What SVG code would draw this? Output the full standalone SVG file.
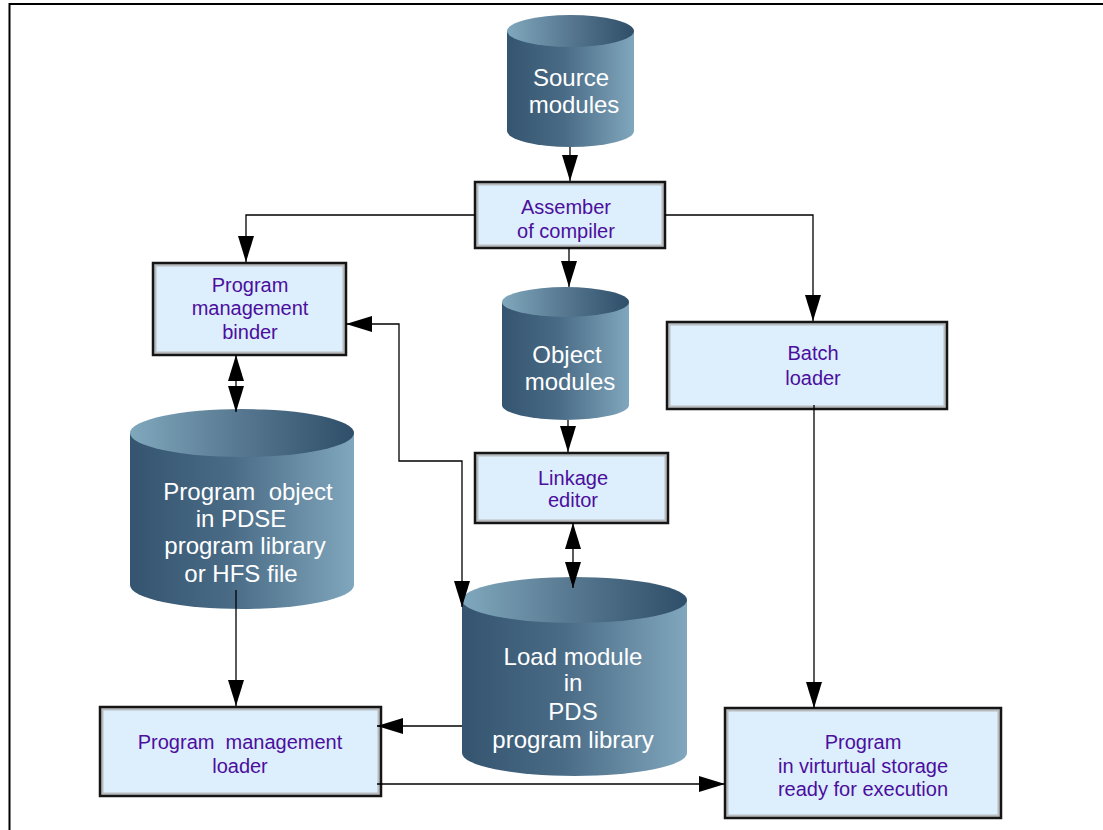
<svg xmlns="http://www.w3.org/2000/svg" width="1103" height="830" viewBox="0 0 1103 830">
  <style>
    .frame { fill: none; stroke: #000; stroke-width: 2; }
    .box-outer { fill: #b9bcbf; stroke: #151515; stroke-width: 2.5; }
    .box-inner { fill: #ddeefc; }
    .cyl-body { fill: url(#bodyGrad); }
    .cyl-top { fill: url(#topGrad); }
    text { white-space: pre; }
    .cyl-text { font-family: "Liberation Sans", Arial, sans-serif; font-size: 24px; fill: #ffffff; text-anchor: middle; }
    .box-text { font-family: "Liberation Sans", Arial, sans-serif; font-size: 20px; fill: #4b0f9e; text-anchor: middle; }
    .conn { fill: none; stroke: #000; stroke-width: 1.3; }
  </style>
  <defs>
    <linearGradient id="bodyGrad" x1="0" y1="0" x2="1" y2="0">
      <stop offset="0" stop-color="#34546f"/>
      <stop offset="0.45" stop-color="#4a6b86"/>
      <stop offset="1" stop-color="#80a7bd"/>
    </linearGradient>
    <linearGradient id="topGrad" x1="0" y1="0" x2="1" y2="0">
      <stop offset="0" stop-color="#80a8bd"/>
      <stop offset="0.5" stop-color="#56778f"/>
      <stop offset="1" stop-color="#2f4e69"/>
    </linearGradient>
    <marker id="arrow" markerUnits="userSpaceOnUse" markerWidth="26" markerHeight="16" refX="26" refY="8" orient="auto-start-reverse" viewBox="0 0 26 16">
      <path d="M0,0 L26,8 L0,16 Z" fill="#000"/>
    </marker>
  </defs>

  <!-- outer frame -->
  <path class="frame" d="M9.5,830 L9.5,4 L1103,4"/>

  <!-- storage cylinders -->
  <g id="source-modules">
    <path class="cyl-body" d="M507,31 L507,131 A63.5,16 0 0 0 634,131 L634,31 Z"/>
    <ellipse class="cyl-top" cx="570.5" cy="31" rx="63.5" ry="16"/>
    <text class="cyl-text" x="571" y="86">Source</text>
    <text class="cyl-text" x="574" y="113">modules</text>
  </g>

  <g id="object-modules">
    <path class="cyl-body" d="M502,302 L502,405 A63.5,15 0 0 0 629,405 L629,302 Z"/>
    <ellipse class="cyl-top" cx="565.5" cy="302" rx="63.5" ry="15"/>
    <text class="cyl-text" x="567" y="363">Object</text>
    <text class="cyl-text" x="570" y="390">modules</text>
  </g>

  <g id="program-object">
    <path class="cyl-body" d="M130,433 L130,585 A112,24 0 0 0 354,585 L354,433 Z"/>
    <ellipse class="cyl-top" cx="242" cy="433" rx="112" ry="24"/>
    <text class="cyl-text" x="248" y="500">Program  object</text>
    <text class="cyl-text" x="241" y="527">in PDSE</text>
    <text class="cyl-text" x="245" y="554">program library</text>
    <text class="cyl-text" x="241" y="582">or HFS file</text>
  </g>

  <g id="load-module">
    <path class="cyl-body" d="M462,600 L462,753 A112.5,23 0 0 0 687,753 L687,600 Z"/>
    <ellipse class="cyl-top" cx="574.5" cy="600" rx="112.5" ry="23"/>
    <text class="cyl-text" x="573" y="665">Load module</text>
    <text class="cyl-text" x="573" y="691">in</text>
    <text class="cyl-text" x="573" y="720">PDS</text>
    <text class="cyl-text" x="573" y="748">program library</text>
  </g>

  <!-- processing boxes -->
  <g id="assembler">
    <rect class="box-outer" x="475" y="182" width="190" height="66"/>
    <rect class="box-inner" x="478.5" y="185.5" width="183" height="59"/>
    <text class="box-text" x="566" y="214">Assember</text>
    <text class="box-text" x="566" y="238">of compiler</text>
  </g>

  <g id="binder">
    <rect class="box-outer" x="153" y="263" width="193" height="92"/>
    <rect class="box-inner" x="156.5" y="266.5" width="186" height="85"/>
    <text class="box-text" x="250" y="292">Program</text>
    <text class="box-text" x="250" y="315">management</text>
    <text class="box-text" x="250" y="339">binder</text>
  </g>

  <g id="batch-loader">
    <rect class="box-outer" x="667" y="322" width="280" height="87"/>
    <rect class="box-inner" x="670.5" y="325.5" width="273" height="80"/>
    <text class="box-text" x="813" y="360">Batch</text>
    <text class="box-text" x="813" y="385">loader</text>
  </g>

  <g id="linkage-editor">
    <rect class="box-outer" x="475" y="453" width="193" height="70"/>
    <rect class="box-inner" x="478.5" y="456.5" width="186" height="63"/>
    <text class="box-text" x="573" y="485">Linkage</text>
    <text class="box-text" x="573" y="507">editor</text>
  </g>

  <g id="pm-loader">
    <rect class="box-outer" x="100" y="707" width="281" height="89"/>
    <rect class="box-inner" x="103.5" y="710.5" width="274" height="82"/>
    <text class="box-text" x="240" y="749">Program  management</text>
    <text class="box-text" x="240" y="773">loader</text>
  </g>

  <g id="program-storage">
    <rect class="box-outer" x="725" y="708" width="276" height="110"/>
    <rect class="box-inner" x="728.5" y="711.5" width="269" height="103"/>
    <text class="box-text" x="863" y="749">Program</text>
    <text class="box-text" x="863" y="773">in virturtual storage</text>
    <text class="box-text" x="863" y="796">ready for execution</text>
  </g>

  <!-- connectors -->
  <g id="connectors">
    <path class="conn" d="M570,147 L570,181" marker-end="url(#arrow)"/>
    <path class="conn" d="M475,215 L246,215 L246,262" marker-end="url(#arrow)"/>
    <path class="conn" d="M665,215 L813,215 L813,321" marker-end="url(#arrow)"/>
    <path class="conn" d="M569,248 L569,287" marker-end="url(#arrow)"/>
    <path class="conn" d="M568,420 L568,452" marker-end="url(#arrow)"/>
    <path class="conn" d="M236,355 L236,412" marker-start="url(#arrow)" marker-end="url(#arrow)"/>
    <path class="conn" d="M573,523 L573,588" marker-start="url(#arrow)" marker-end="url(#arrow)"/>
    <path class="conn" d="M346,324 L399,324 L399,461 L462,461 L462,607" marker-start="url(#arrow)" marker-end="url(#arrow)"/>
    <path class="conn" d="M236,590 L236,706" marker-end="url(#arrow)"/>
    <path class="conn" d="M462,726 L377,726" marker-end="url(#arrow)"/>
    <path class="conn" d="M377,784 L725,784" marker-end="url(#arrow)"/>
    <path class="conn" d="M814,405 L814,708" marker-end="url(#arrow)"/>
  </g>
</svg>
